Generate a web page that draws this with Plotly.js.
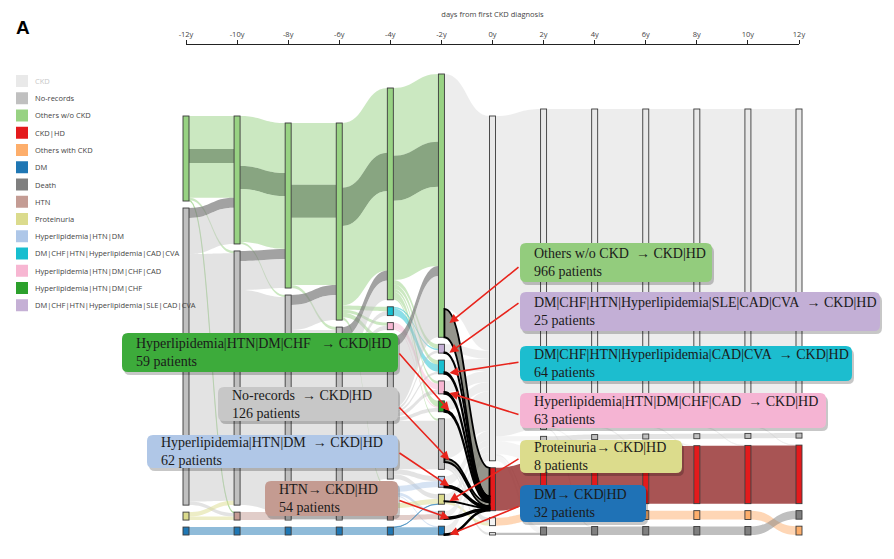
<!DOCTYPE html>
<html><head><meta charset="utf-8">
<script src="https://cdn.plot.ly/plotly-3.0.1.min.js"></script>
<style>html,body{margin:0;padding:0;background:#fff}#chart{width:894px;height:559px}</style>
</head><body><div id="chart"></div>
<script>
// ---------- categories ----------
const CKD='CKD', NR='No-records', G='Others w/o CKD', HD='CKD|HD', OC='Others with CKD', DM='DM', D='Death',
      HTN='HTN', P='Proteinuria', LB='Hyperlipidemia|HTN|DM', CY='DM|CHF|HTN|Hyperlipidemia|CAD|CVA',
      PK='Hyperlipidemia|HTN|DM|CHF|CAD', GD='Hyperlipidemia|HTN|DM|CHF', PU='DM|CHF|HTN|Hyperlipidemia|SLE|CAD|CVA';
const categories = [CKD, NR, G, HD, OC, DM, D, HTN, P, LB, CY, PK, GD, PU];
const timeYears  = [-12,-10,-8,-6,-4,-2,0,2,4,6,8,10,12];
const timeLabels = ['-12y','-10y','-8y','-6y','-4y','-2y','0y','2y','4y','6y','8y','10y','12y'];

// states present at each time point (top to bottom)
const states_m12y = [G, NR, P, DM];
const states_m10y = [G, NR, HTN, DM];
const states_m8y  = [G, NR, DM];
const states_m6y  = [G, NR, DM];
const states_m4y  = [G, CY, PK, NR, LB, P, HTN, DM];
const states_m2y  = [G, PU, CY, PK, GD, NR, LB, P, HTN, DM];
const states_0y   = [CKD, HD, OC, D];
const states_2y   = [CKD, NR, HD, OC, D];
const states_4y   = [CKD, NR, HD, OC, D];
const states_6y   = [CKD, NR, HD, OC, D];
const states_8y   = [CKD, NR, HD, OC, D];
const states_10y  = [CKD, NR, HD, OC, D];
const states_12y  = [CKD, NR, HD, D, OC];

// patient flows [from, to, patients, kind]  kind: n normal, h highlighted cohort, x -> CKD|HD
const flows_m12y = [[G,G,1120,'n'],[G,G,480,'h'],[G,G,1180,'n'],[G,NR,80,'n'],[G,HTN,30,'n'],
  [NR,G,340,'h'],[NR,G,1230,'n'],[NR,NR,8410,'n'],[NR,HTN,120,'n'],[P,NR,150,'n'],[P,HTN,120,'n'],[DM,DM,270,'n']];
const flows_m10y = [[G,G,1700,'n'],[G,G,780,'h'],[G,G,1800,'n'],[G,NR,70,'n'],
  [NR,G,340,'h'],[NR,G,990,'n'],[NR,NR,7310,'n'],[HTN,NR,270,'n'],[DM,DM,270,'n']];
const flows_m8y = [[G,G,2100,'n'],[G,G,1120,'h'],[G,G,2290,'n'],[G,NR,100,'n'],
  [NR,G,340,'h'],[NR,G,850,'n'],[NR,NR,6460,'n'],[DM,DM,270,'n']];
const flows_m6y = [[G,G,2200,'n'],[G,G,1300,'h'],[G,G,2700,'n'],[G,CY,150,'n'],[G,PK,100,'n'],[G,NR,150,'n'],[G,LB,100,'n'],
  [NR,G,340,'h'],[NR,G,660,'n'],[NR,CY,150,'n'],[NR,PK,140,'n'],[NR,NR,4690,'n'],[NR,LB,240,'n'],[NR,P,170,'n'],[NR,HTN,170,'n'],
  [DM,DM,270,'n']];
const flows_m4y = [[G,G,2300,'n'],[G,G,1530,'h'],[G,G,2700,'n'],[G,PU,150,'n'],[G,CY,150,'n'],[G,PK,100,'n'],[G,GD,200,'n'],[G,NR,70,'n'],
  [CY,PU,50,'n'],[CY,CY,250,'n'],[PK,PK,200,'n'],[PK,GD,40,'n'],
  [NR,G,340,'h'],[NR,G,2080,'n'],[NR,PU,100,'n'],[NR,CY,70,'n'],[NR,PK,140,'n'],[NR,GD,130,'n'],[NR,NR,1650,'n'],[NR,LB,170,'n'],[NR,P,160,'n'],
  [LB,LB,200,'n'],[LB,HTN,100,'n'],[LB,DM,40,'n'],[P,P,170,'n'],[HTN,HTN,170,'n'],[DM,DM,260,'n'],[DM,P,10,'n']];
const flows_m2y = [[G,CKD,7984,'n'],[G,HD,966,'x'],[PU,CKD,275,'n'],[PU,HD,25,'x'],[CY,CKD,406,'n'],[CY,HD,64,'x'],
  [PK,CKD,377,'n'],[PK,HD,63,'x'],[GD,CKD,311,'n'],[GD,HD,59,'x'],
  [NR,CKD,1344,'n'],[NR,HD,126,'x'],[NR,OC,170,'n'],[NR,D,80,'n'],
  [LB,CKD,308,'n'],[LB,HD,62,'x'],[P,CKD,232,'n'],[P,HD,8,'x'],[P,OC,100,'n'],
  [HTN,CKD,216,'n'],[HTN,HD,54,'x'],[DM,CKD,268,'n'],[DM,HD,32,'x']];
const flows_0y  = [[CKD,CKD,10890,'n'],[CKD,NR,170,'n'],[CKD,HD,441,'n'],[CKD,OC,30,'n'],[CKD,D,190,'n'],[HD,HD,1459,'h'],[OC,OC,270,'n'],[D,D,80,'n']];
const flows_2y  = [[CKD,CKD,10830,'n'],[CKD,HD,40,'n'],[CKD,D,20,'n'],[NR,NR,170,'n'],[HD,HD,1900,'h'],[OC,OC,300,'n'],[D,D,270,'n']];
const flows_4y  = [[CKD,CKD,10810,'n'],[CKD,HD,20,'n'],[NR,NR,170,'n'],[HD,HD,1940,'h'],[OC,OC,300,'n'],[D,D,290,'n']];
const flows_6y  = [[CKD,CKD,10800,'n'],[CKD,HD,10,'n'],[NR,NR,170,'n'],[HD,HD,1960,'h'],[OC,OC,300,'n'],[D,D,290,'n']];
const flows_8y  = [[CKD,CKD,10790,'n'],[CKD,HD,10,'n'],[NR,NR,170,'n'],[HD,HD,1970,'h'],[OC,OC,300,'n'],[D,D,290,'n']];
const flows_10y = [[CKD,CKD,10780,'n'],[CKD,HD,10,'n'],[NR,NR,170,'n'],[HD,HD,1980,'h'],[OC,OC,300,'n'],[D,D,290,'n']];

// ---------- styles ----------
const catColors = ['#e9e9e9','#c0c0c0','#98d283','#e41a1c','#fdae6b','#1f77b4','#7f7f7f','#c49c94','#dbdb8d','#aec7e8','#17becf','#f7b6d2','#2ca02c','#c5b0d5'];
const colorOf = {}; categories.forEach((c,i)=>colorOf[c]=catColors[i]);
const cohortColor = {[G]:'rgba(80,122,70,0.68)', [NR]:'rgba(118,118,118,0.68)', [HD]:'rgba(140,30,30,0.76)'};

const W=894, HT=559, colLeft=186, colRight=799, sankeyTop=74, sankeyBottom=535, pad=7, thick=6;

const columns = [states_m12y,states_m10y,states_m8y,states_m6y,states_m4y,states_m2y,states_0y,states_2y,states_4y,states_6y,states_8y,states_10y,states_12y];
const transitions = [flows_m12y,flows_m10y,flows_m8y,flows_m6y,flows_m4y,flows_m2y,flows_0y,flows_2y,flows_4y,flows_6y,flows_8y,flows_10y];

function hexToRgba(h,a){const n=parseInt(h.slice(1),16);return `rgba(${n>>16},${(n>>8)&255},${n&255},${a})`;}
const colPx = c => colLeft + c*(colRight-colLeft)/(columns.length-1);

// nodes
const nodes=[], idx={};
columns.forEach((cats,c)=>cats.forEach(cat=>{idx[c+'|'+cat]=nodes.length;nodes.push({c,cat,inV:0,outV:0});}));
transitions.forEach((fl,c)=>fl.forEach(([s,t,v])=>{nodes[idx[c+'|'+s]].outV+=v;nodes[idx[(c+1)+'|'+t]].inV+=v;}));
nodes.forEach(n=>n.value=Math.max(n.inV,n.outV));
const H = sankeyBottom - sankeyTop;
let ky = Infinity;
columns.forEach((cats,c)=>{const tot=cats.reduce((a,cat)=>a+nodes[idx[c+'|'+cat]].value,0);ky=Math.min(ky,(H-(cats.length-1)*pad)/tot);});
columns.forEach((cats,c)=>{let y=H;for(let i=cats.length-1;i>=0;i--){const n=nodes[idx[c+'|'+cats[i]]];const h=n.value*ky;n.top=y-h;n.center=y-h/2;y-=h+pad;}});

const nodeColor = nodes.map(n => (n.c===6 && n.cat!==HD && n.cat!==CKD) ? '#f4f4f4' : colorOf[n.cat]);

const L=[];
transitions.forEach((fl,c)=>fl.forEach(([s,t,v,k])=>L.push({c,s,t,v,k})));
const linkColor = l => l.k==='x' ? 'rgba(0,0,0,0)' : l.k==='h' ? cohortColor[l.s] :
   (l.t===CKD ? hexToRgba(colorOf[CKD],0.8) : hexToRgba(colorOf[l.s], l.s===NR?0.45:0.5));
const sankeyDomain = {x:[0,1], y:[1-sankeyBottom/HT, 1-sankeyTop/HT]};

const sankey = {
  type:'sankey', arrangement:'fixed', domain:sankeyDomain, hoverinfo:'none',
  textfont:{size:1,color:'rgba(0,0,0,0)'},
  node:{pad:pad, thickness:thick, label:nodes.map(n=>n.cat), color:nodeColor,
        line:{color:'#3a3a3a', width:0.9},
        x:nodes.map(n=>colPx(n.c)/W), y:nodes.map(n=>n.center/H)},
  link:{source:L.map(l=>idx[l.c+'|'+l.s]), target:L.map(l=>idx[(l.c+1)+'|'+l.t]), value:L.map(l=>l.v),
        color:L.map(linkColor), line:{color:'rgba(0,0,0,0)', width:0}}
};

// overlay: the flows into CKD|HD drawn with black outlines, on the same scale
const xFlows = flows_m2y.filter(f=>f[3]==='x');
const hdTotal = xFlows.reduce((a,f)=>a+f[2],0);
const toCkd = {}; flows_m2y.filter(f=>f[1]===CKD).forEach(f=>toCkd[f[0]]=f[2]);
const hdCounts = {}; xFlows.forEach(f=>hdCounts[f[0]]=f[2]);
const xSrcY = cat => { const n=nodes[idx['5|'+cat]]; return n.top + (toCkd[cat] + hdCounts[cat]/2)*ky; };
const ballast = H/ky - hdTotal;
const ovX = [], ovY = [];
xFlows.forEach(f=>{ovX.push(colPx(5)/W); ovY.push(xSrcY(f[0])/H);});
ovX.push(colPx(6)/W); ovY.push(nodes[idx['6|'+HD]].center/H);
ovX.push(-0.6); ovY.push(0.5); ovX.push(-0.3); ovY.push(0.5);
const nX = xFlows.length;
const overlay = {
  type:'sankey', arrangement:'fixed', domain:sankeyDomain, hoverinfo:'none',
  textfont:{size:1,color:'rgba(0,0,0,0)'},
  node:{pad:0, thickness:thick, label:ovX.map(()=>''), color:ovX.map(()=>'rgba(0,0,0,0)'), line:{width:0, color:'rgba(0,0,0,0)'}, x:ovX, y:ovY},
  link:{source:xFlows.map((f,i)=>i).concat([nX+1]), target:xFlows.map(()=>nX).concat([nX+2]),
        value:xFlows.map(f=>f[2]).concat([ballast]),
        color:xFlows.map(()=>'rgba(60,62,45,0.55)').concat(['rgba(0,0,0,0)']),
        line:{color:'#000000', width:1.8}}
};

const axisTrace = {type:'scatter', x:[-12,12], y:[0.5,0.5], mode:'markers', marker:{opacity:0}, hoverinfo:'skip', showlegend:false};

// ---------- annotation boxes ----------
const boxSpec = [
  {cat:G,  sep:'\u00a0 ', box:[520,243,712,282], tail:[520,266], color:'#93cc7d'},
  {cat:PU, sep:'\u00a0 ', box:[520,292,880,331], tail:[520,302], color:'#c3afd6'},
  {cat:CY, sep:'\u00a0 ', box:[520,346,852,381], tail:[520,362], color:'#1cbdcf'},
  {cat:PK, sep:'\u00a0 ', box:[520,393,826,428], tail:[520,415], color:'#f5b4d3'},
  {cat:P,  sep:'',        box:[520,440,682,473], tail:[520,458], color:'#dcdc8c'},
  {cat:DM, sep:'',        box:[520,485,646,522], tail:[520,506], color:'#1f72b6'},
  {cat:GD, sep:'\u00a0 \u00a0', box:[122,333,398,372], tail:[398,352], color:'#3dab3b'},
  {cat:NR, sep:'\u00a0 ', box:[218,387,398,421], tail:[398,406], color:'#c7c7c7'},
  {cat:LB, sep:'\u00a0 ', box:[147,435,398,468], tail:[398,452], color:'#b0c7e7'},
  {cat:HTN,sep:'',        box:[265,481,398,516], tail:[398,500], color:'#c49b91'}
];
const px2x = x => x/W, px2y = y => 1 - y/HT;
function roundPath(x0,y0,x1,y1,r){
  const p=(x,y)=>px2x(x)+','+px2y(y);
  return `M${p(x0+r,y0)} L${p(x1-r,y0)} Q${p(x1,y0)} ${p(x1,y0+r)} L${p(x1,y1-r)} Q${p(x1,y1)} ${p(x1-r,y1)} L${p(x0+r,y1)} Q${p(x0,y1)} ${p(x0,y1-r)} L${p(x0,y0+r)} Q${p(x0,y0)} ${p(x0+r,y0)} Z`;
}
const shapes=[], annotations=[];
boxSpec.forEach(b=>{
  const [x0,y0,x1,y1]=b.box;
  shapes.push({type:'path', xref:'paper', yref:'paper', path:roundPath(x0+2,y0+3,x1+2,y1+3,6), fillcolor:'rgba(0,0,0,0.22)', line:{width:0}});
  shapes.push({type:'path', xref:'paper', yref:'paper', path:roundPath(x0,y0,x1,y1,6), fillcolor:b.color, line:{width:0}});
});
boxSpec.forEach(b=>{
  const [x0,y0,x1,y1]=b.box;
  const hx = colPx(5) + thick/2 + 5;
  const hy = sankeyTop + xSrcY(b.cat);
  annotations.push({xref:'paper', yref:'paper', x:px2x(hx), y:px2y(hy), text:'', showarrow:true,
     ax:b.tail[0]-hx, ay:b.tail[1]-hy, arrowcolor:'#e8241c', arrowwidth:1.6, arrowhead:2, arrowsize:1.1, standoff:0, startstandoff:0});
  annotations.push({xref:'paper', yref:'paper', x:px2x(x0+12), y:px2y((y0+y1)/2), xanchor:'left', yanchor:'middle', align:'left', showarrow:false,
     text:`${b.cat}${b.sep}\u2192 ${HD}<br>${hdCounts[b.cat]} patients`, font:{family:'Liberation Serif, serif', size:14, color:'#1a1a1a'}});
});

// legend
categories.forEach((cat,i)=>{
  const yc = 81 + i*17.25;
  shapes.push({type:'rect', xref:'paper', yref:'paper', x0:px2x(16), x1:px2x(28), y0:px2y(yc+6), y1:px2y(yc-6), fillcolor:colorOf[cat], line:{width:0}});
  annotations.push({xref:'paper', yref:'paper', x:px2x(33), y:px2y(yc), xanchor:'left', yanchor:'middle', showarrow:false, text:cat,
     font:{family:'Open Sans, sans-serif', size:7.5, color: cat===CKD ? '#c8c8c8' : '#444'}});
});
annotations.push({xref:'paper', yref:'paper', x:px2x(14), y:px2y(28), xanchor:'left', yanchor:'middle', showarrow:false, text:'<b>A</b>',
   font:{family:'Liberation Sans, Arial, sans-serif', size:19, color:'#000'}});

const layout = {
  width:W, height:HT, margin:{l:0,r:0,t:0,b:0}, paper_bgcolor:'#fff', plot_bgcolor:'rgba(0,0,0,0)', showlegend:false,
  xaxis:{domain:[colLeft/W, colRight/W], range:[-12,12], side:'top', anchor:'y', showline:true, linecolor:'#222', linewidth:1.3,
         ticks:'outside', ticklen:4, tickwidth:1, tickcolor:'#222', tickvals:timeYears, ticktext:timeLabels,
         tickfont:{family:'Open Sans, sans-serif', size:7.5, color:'#444'}, showgrid:false, zeroline:false, fixedrange:true,
         title:{text:'days from first CKD diagnosis', font:{family:'Open Sans, sans-serif', size:7.5, color:'#444'}, standoff:10}},
  yaxis:{domain:[1-47/HT, 1-45/HT], range:[0,1], visible:false, fixedrange:true},
  shapes, annotations
};
Plotly.newPlot('chart',[sankey, overlay, axisTrace],layout,{displayModeBar:false, staticPlot:true});
</script></body></html>
